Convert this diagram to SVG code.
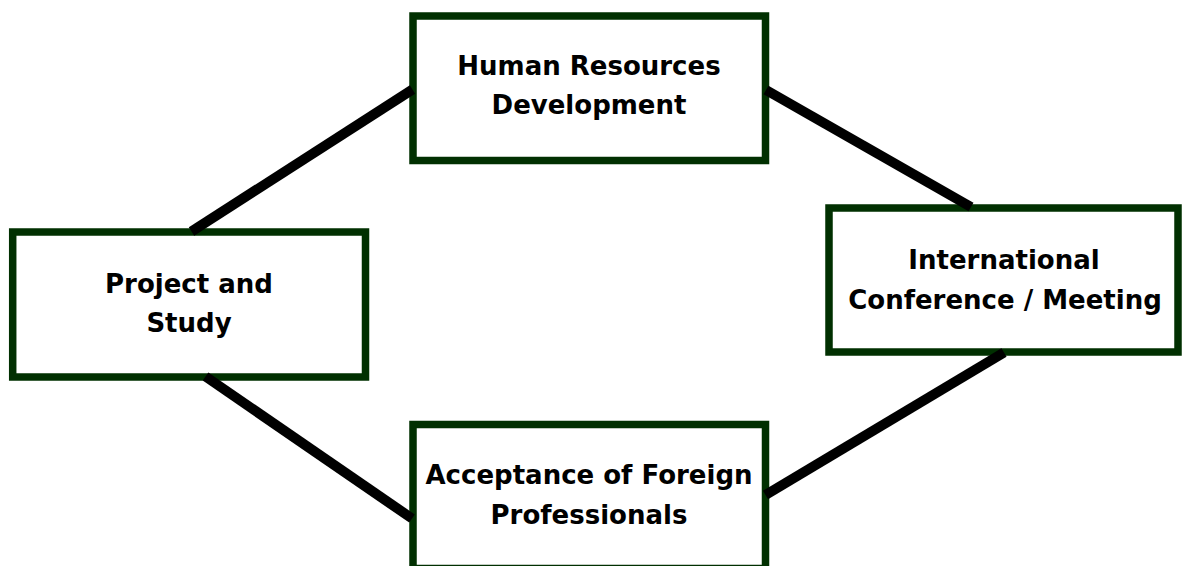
<svg xmlns="http://www.w3.org/2000/svg" width="1182" height="566" viewBox="0 0 1182 566">
<style>
.box{fill:#ffffff;stroke:#013001;stroke-width:7.5}
.lbl{font-family:"DejaVu Sans","Liberation Sans",sans-serif;font-weight:bold;font-size:26px;fill:#000000;text-anchor:middle}
.conn{stroke:#000000;stroke-width:10;stroke-linecap:butt;fill:none}
</style>
<rect x="0" y="0" width="1182" height="566" fill="#ffffff"/>
<g id="node-hrd">
<rect class="box" x="413" y="16" width="352.5" height="144.5"/>
<text class="lbl" x="589" y="74.5">Human Resources</text>
<text class="lbl" x="589" y="113.5">Development</text>
</g>
<g id="node-project">
<rect class="box" x="12.7" y="232" width="352.8" height="145"/>
<text class="lbl" x="189" y="292.5">Project and</text>
<text class="lbl" x="189" y="331.5">Study</text>
</g>
<g id="node-conference">
<rect class="box" x="829" y="208" width="349" height="144"/>
<text class="lbl" x="1004" y="269">International</text>
<text class="lbl" x="1005" y="309">Conference / Meeting</text>
</g>
<g id="node-acceptance">
<rect class="box" x="413" y="424.5" width="352.5" height="144"/>
<text class="lbl" x="589" y="483.5">Acceptance of Foreign</text>
<text class="lbl" x="589" y="524">Professionals</text>
</g>
<g id="connectors">
<line class="conn" x1="191.5" y1="231.5" x2="412.5" y2="89.5"/>
<line class="conn" x1="766" y1="90" x2="971" y2="207"/>
<line class="conn" x1="1004" y1="352.5" x2="765.5" y2="495"/>
<line class="conn" x1="205.5" y1="376.5" x2="412" y2="518.5"/>
</g>
</svg>
